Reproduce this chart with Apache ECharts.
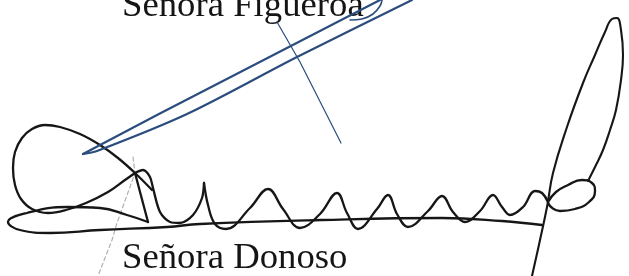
<!DOCTYPE html>
<html>
<head>
<meta charset="utf-8">
<script src="https://cdn.jsdelivr.net/npm/echarts@6/dist/echarts.min.js"></script>
<style>html,body{margin:0;padding:0;background:#fff;}#c{width:629px;height:276px;}</style>
</head>
<body>
<div id="c"></div>
<script>
// Labels
const labelTop = 'Señora Figueroa';
const labelBottom = 'Señora Donoso';

// Stroke point lists (x, y in picture units; y grows downward)
const blueUpper = [[380,0],[157,115],[83,154]];
const blueLower = [[83,154],[97,151],[187,114],[297,57],[412,0]];
const blueHook = [[350,20],[362,19],[373,14],[380,6],[382,0]];
const blueThin = [[277,22],[300,62],[341,143]];
const grayGuide = [[133,157],[135,173],[117,223],[112,240],[98,276]];
const teardrop = [[152,190],[135,173],[118,158],[100,145],[80,134],[60,127],[45,125],[32,129],[22,138],[15,152],[13,168],[15,185],[21,199],[32,209],[48,213],[66,210],[86,203],[108,192],[125,180],[135,173]];
const triangleArm = [[135,173],[148,222]];
const baseLoop = [[148,222],[127,215],[100,208],[67,207],[27,213],[8,222],[20,230],[50,233],[100,230],[167,227],[200,224],[321,220],[442,218],[502,221],[542,225]];
const spikes = [[135,173],[143,170],[150,177],[153,188],[160,212],[170,222],[180,223],[193,215],[202,198],[204,183]];
const waves = [[204,183],[208,205],[215,224],[226,229],[250,208],[268,189],[283,209],[300,228],[320,214],[337,193],[347,213],[358,229],[377,209],[388,195],[397,214],[408,227],[428,211],[442,196],[453,212],[465,222],[480,211],[493,195],[502,207],[510,215],[523,207],[535,191],[542,193],[548,202]];
const smallEllipse = [[548,202],[556,192],[568,185],[582,180],[592,183],[595,191],[589,202],[575,209],[560,211],[551,207],[548,202]];
const tallLoop = [[588,181],[596,165],[603,150],[610,130],[616,110],[621,80],[623,55],[621,30],[617,18],[612,19],[605,32],[595,55],[583,83],[567,127],[553,173],[547,207],[540,240],[532,276]];

const INK = '#161616';
const BLUE = '#2b4d7e';

function stroke(data, color, width, smooth, dash) {
  return {
    type: 'line', data: data, symbol: 'none', smooth: smooth, silent: true,
    lineStyle: { color: color, width: width, cap: 'round', join: 'round', type: dash || 'solid' }
  };
}

const chart = echarts.init(document.getElementById('c'), null, { renderer: 'canvas' });
chart.setOption({
  animation: false,
  backgroundColor: '#ffffff',
  grid: { left: 0, right: 0, top: 0, bottom: 0 },
  xAxis: { type: 'value', min: 0, max: 629, show: false },
  yAxis: { type: 'value', min: 0, max: 276, inverse: true, show: false },
  graphic: [
    { type: 'text', left: 122, top: -11, z: 1, scaleX: 1.02,
      style: { text: labelTop, font: '36px "Liberation Serif"', fill: '#151515' } },
    { type: 'text', left: 122, top: 241, z: 1, scaleX: 1.02,
      style: { text: labelBottom, font: '36px "Liberation Serif"', fill: '#151515' } }
  ],
  series: [
    stroke(grayGuide, '#b0b0b0', 1.2, false, [4, 3]),
    stroke(teardrop, INK, 2.3, 0.4),
    stroke(triangleArm, INK, 2.3, false),
    stroke(baseLoop, INK, 2.3, 0.45),
    stroke(spikes, INK, 2.3, 0.3),
    stroke(waves, INK, 2.3, 0.4),
    stroke(smallEllipse, INK, 2.3, 0.5),
    stroke(tallLoop, INK, 2.1, 0.45),
    stroke(blueUpper, BLUE, 2.2, false),
    stroke(blueLower, BLUE, 2.2, 0.3),
    stroke(blueHook, BLUE, 1.6, 0.4),
    stroke(blueThin, BLUE, 1.2, false)
  ]
});
</script>
</body>
</html>
